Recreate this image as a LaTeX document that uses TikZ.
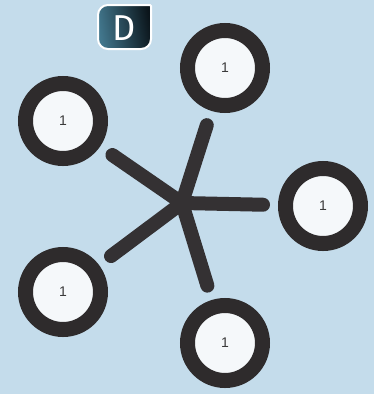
\documentclass[tikz,border=0pt]{standalone}
\usepackage{fontspec}
\setmainfont{Liberation Sans}
\newfontfamily\badgefont{Fira Sans}
\definecolor{bg}{HTML}{C4DCEB}
\definecolor{ringc}{HTML}{2E2B2C}
\definecolor{spokec}{HTML}{343133}
\definecolor{innerc}{HTML}{F5F8FA}
\definecolor{numc}{HTML}{3A3A3A}
\definecolor{badgeA}{HTML}{42778D}
\definecolor{badgeB}{HTML}{0B151B}
\tikzset{
  ring/.style={circle, draw=ringc, line width=15pt, fill=innerc, minimum size=75pt, inner sep=0pt,
    font=\fontsize{14}{16}\selectfont, text=numc},
  spoke/.style={draw=spokec, line width=14pt, line cap=round, shorten >=15pt},
  badgebox/.style={draw=white, line width=2pt, left color=badgeA, right color=badgeB, shading angle=100}
}
\begin{document}
\begin{tikzpicture}[x=1pt, y=-1pt]
\fill[bg] (0,0) rectangle (374,394);
\useasboundingbox (0,0) rectangle (374,394);
% badge
\draw[badgebox] (98,27) [rounded corners=10pt] -- (98,5) -- (138,5) [rounded corners=1pt] -- (151,5) -- (151,20) [rounded corners=10pt] -- (151,49) -- (98,49) -- cycle;
\node[text=white, font=\badgefont\fontsize{36}{40}\selectfont, inner sep=0pt] (badge) at (124.5,28) {D};
% hub and rings
\coordinate (hub) at (182,203);
\node[ring] (c1) at (225,68) {1};
\node[ring] (c2) at (63,121) {1};
\node[ring] (c3) at (323,206) {1};
\node[ring] (c4) at (63,292) {1};
\node[ring] (c5) at (225,343) {1};
\foreach \c in {c1,c2,c3,c4,c5} \draw[spoke] (hub) -- (\c);
\end{tikzpicture}
\end{document}
